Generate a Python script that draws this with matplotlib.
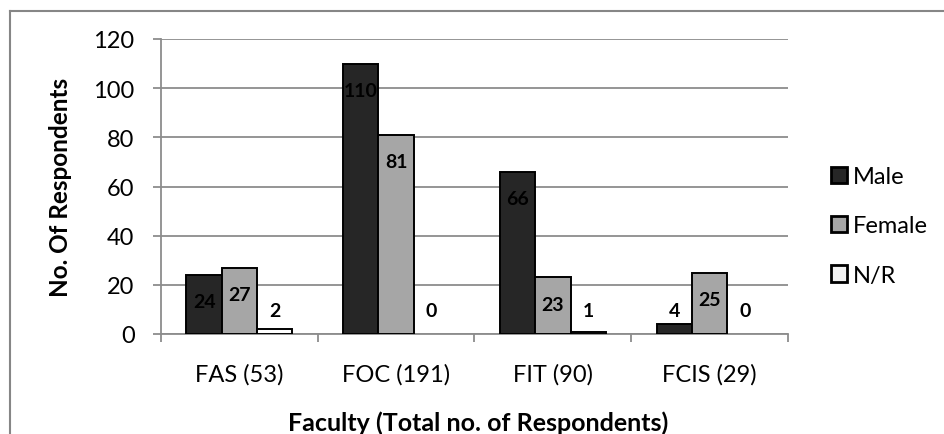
import matplotlib
matplotlib.use("Agg")
import matplotlib.pyplot as plt
import numpy as np
from matplotlib.lines import Line2D

plt.rcParams['font.family'] = ['Lato', 'DejaVu Sans']

categories = ["FAS (53)", "FOC (191)", "FIT (90)", "FCIS (29)"]
series_names = ["Male", "Female", "N/R"]
male = [24, 110, 66, 4]
female = [27, 81, 23, 25]
no_response = [2, 0, 1, 0]
y_ticks = [0, 20, 40, 60, 80, 100, 120]

series_values = [male, female, no_response]
colors = ["#262626", "#a6a6a6", "#ffffff"]

fig = plt.figure(figsize=(9.45, 4.35), dpi=100)
W, H = 945, 435
ax = fig.add_axes([161 / W, 1 - 335 / H, (788 - 161) / W, (335 - 40) / H])

# outer chart frame
fig.add_artist(Line2D([10 / W, 10 / W], [0, 1 - 12 / H], transform=fig.transFigure,
                      color="#868686", lw=1.5))
fig.add_artist(Line2D([10 / W, 1], [1 - 12 / H, 1 - 12 / H], transform=fig.transFigure,
                      color="#868686", lw=1.5))

x = np.arange(len(categories))
bw = 0.225
grid_color = "#8c8c8c"

ax.set_ylim(0, 120)
ax.set_xlim(-0.5, len(categories) - 0.5)
ax.set_yticks(y_ticks)
ax.yaxis.grid(True, color=grid_color, lw=1.3)
ax.set_axisbelow(True)

for i, (name, vals, col) in enumerate(zip(series_names, series_values, colors)):
    pos = x + (i - 1) * bw
    bars = ax.bar(pos, vals, width=bw, color=col, edgecolor="black", lw=1.4,
                  label=name, zorder=3)
    for rect, px, v in zip(bars, pos, vals):
        if v == 0:
            # an empty bar leaves no outline on the axis
            rect.set_linewidth(0)
        ly = v - 10.8 if v > 20 else 9.4
        ax.text(px, ly, str(v), ha="center", va="center", fontsize=14,
                fontweight="bold", color="black", zorder=4)

for s in ["top", "right"]:
    ax.spines[s].set_visible(False)
for s in ["left", "bottom"]:
    ax.spines[s].set_color(grid_color)
    ax.spines[s].set_linewidth(1.3)

ax.set_xticks(x)
ax.set_xticklabels(categories, fontsize=17)
ax.tick_params(axis="x", length=0, pad=21)
ax.set_xticks(np.arange(-0.5, len(categories)), minor=True)
ax.tick_params(axis="x", which="minor", length=6, color=grid_color, width=1.3)
ax.tick_params(axis="y", length=6, color=grid_color, width=1.3, labelsize=17, pad=13)

ax.set_xlabel("Faculty (Total no. of Respondents)", fontsize=18, fontweight="bold", va="center")
ax.xaxis.set_label_coords(0.506, (335 - 423) / 295)
ax.set_ylabel("No. Of Respondents", fontsize=17.5, fontweight="bold", va="center")
ax.yaxis.set_label_coords((61 - 161) / 627, 0.5)

leg = ax.legend(loc="center left", bbox_to_anchor=((831 - 161) / 627, (335 - 227) / 295),
                frameon=False, fontsize=17, handlelength=0.68, handleheight=0.68,
                handletextpad=0.25, labelspacing=1.2, borderaxespad=0, borderpad=0)
for h in leg.legend_handles:
    h.set_linewidth(2)
leg.legend_handles[2].set_facecolor("#f2f2f2")

fig.savefig("out.png", dpi=100)
